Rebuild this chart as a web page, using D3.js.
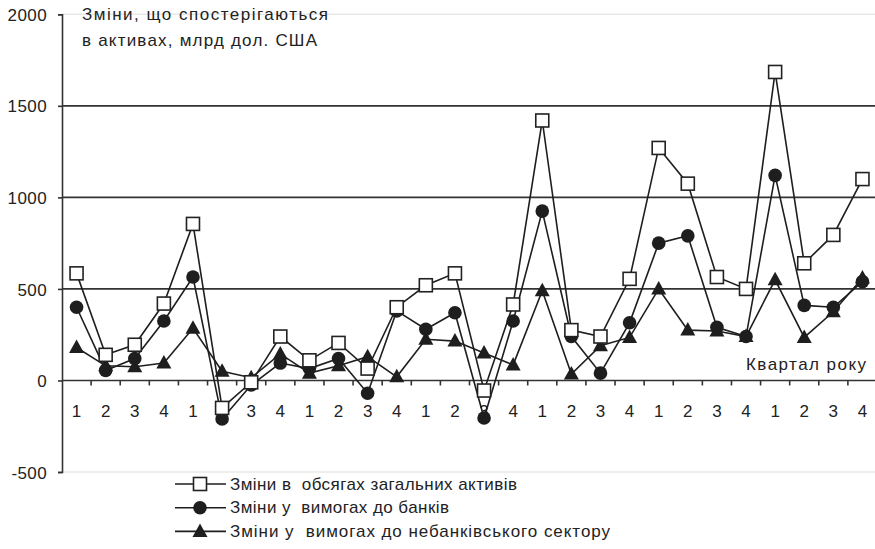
<!DOCTYPE html>
<html><head><meta charset="utf-8">
<script src="https://cdn.jsdelivr.net/npm/d3@7"></script>
<style>body{margin:0;background:#fff}svg{display:block}text{font-family:"Liberation Sans",Arial,sans-serif;fill:#222;white-space:pre}</style>
</head><body><svg id="c" width="875" height="549"></svg>
<script>
const quarters = ["1","2","3","4","1","2","3","4","1","2","3","4","1","2","3","4","1","2","3","4","1","2","3","4","1","2","3","4"];
const totalAssets = [585,140,195,420,855,-150,-10,240,110,205,65,400,520,585,-55,415,1420,275,240,555,1270,1075,565,500,1685,640,795,1100];
const bankClaims = [400,55,120,325,565,-210,-25,95,65,120,-70,380,280,370,-205,325,925,240,40,315,750,790,290,240,1120,410,400,540];
const nonBankClaims = [180,80,75,95,285,50,15,145,40,80,130,20,225,215,150,85,490,35,190,235,500,275,270,240,550,235,375,560];
const yTicks = [-500,0,500,1000,1500,2000];
const gridValues = [500,1000,1500];
const titleLines = ["Зміни, що спостерігаються","в активах, млрд дол. США"];
const xTitle = "Квартал року";
const legendLabels = ["Зміни в  обсягах загальних активів","Зміни у  вимогах до банків","Зміни у  вимогах до небанківського сектору"];

const svg = d3.select("#c");
const idx = d3.range(quarters.length);
const x = d3.scaleBand().domain(idx).range([62, 877]).padding(0);
const y = d3.scaleLinear().domain([-500, 2000]).range([472, 14.3]);
const cx = i => x(i) + x.bandwidth()/2;
const FS = 17;

// faint lines at extremes
svg.selectAll("line.faint").data([-500,2000]).join("line")
  .attr("x1",62).attr("x2",875).attr("y1",d=>y(d)).attr("y2",d=>y(d))
  .attr("stroke","#e8e8e8").attr("stroke-width",1.5);
// gridlines
svg.selectAll("line.grid").data(gridValues).join("line")
  .attr("x1",62).attr("x2",875).attr("y1",d=>y(d)).attr("y2",d=>y(d))
  .attr("stroke","#333").attr("stroke-width",1.6);

// y axis
const yAxis = svg.append("g").attr("transform","translate(62,0)")
  .call(d3.axisLeft(y).tickValues(yTicks).tickSize(4).tickPadding(11).tickFormat(d => String(d)));
yAxis.select(".domain").attr("stroke","#333").attr("stroke-width",1.6);
yAxis.selectAll(".tick line").attr("stroke","#333").attr("stroke-width",1.6);
yAxis.selectAll(".tick text").attr("font-size",FS).attr("fill","#222").attr("dy","0.36em").attr("letter-spacing",0.4);

// x axis at zero
const xAxis = svg.append("g").attr("transform",`translate(0,${y(0)})`);
xAxis.append("line").attr("x1",62).attr("x2",875).attr("y1",0).attr("y2",0).attr("stroke","#333").attr("stroke-width",1.6);
xAxis.selectAll("line.t").data(idx.slice(1)).join("line")
  .attr("x1",d=>x(d)).attr("x2",d=>x(d)).attr("y1",0).attr("y2",5)
  .attr("stroke","#333").attr("stroke-width",1.6);
xAxis.selectAll("text").data(idx).join("text")
  .attr("x",d=>cx(d)).attr("y",37).attr("text-anchor","middle").attr("font-size",FS)
  .text(d=>quarters[d]);

// titles
const titleWidths = [246, 235];
svg.selectAll("text.title").data(titleLines).join("text").attr("class","title")
  .attr("x",82).attr("y",(d,i)=>20+i*26).attr("font-size",FS)
  .attr("textLength",(d,i)=>titleWidths[i]).attr("lengthAdjust","spacing").text(d=>d);
svg.append("text").attr("x",746).attr("y",370).attr("font-size",FS)
  .attr("textLength",120).attr("lengthAdjust","spacing").text(xTitle);

const line = d3.line().x((d,i)=>cx(i)).y(d=>y(d));
const series = [totalAssets, bankClaims, nonBankClaims];
const drawMarker = (g, type) => {
  if (type===0) g.append("rect").attr("x",-6.5).attr("y",-6.5).attr("width",13).attr("height",13)
     .attr("fill","#fff").attr("stroke","#222").attr("stroke-width",1.6);
  else if (type===1) g.append("circle").attr("r",6.8).attr("fill","#1e1e1e");
  else g.append("path").attr("d","M0,-8L7.5,5.5L-7.5,5.5Z").attr("fill","#1e1e1e");
};
[2,1,0].forEach(s=>{
  svg.append("path").datum(series[s]).attr("d",line).attr("fill","none")
    .attr("stroke","#1e1e1e").attr("stroke-width",1.6);
});
[2,1,0].forEach(s=>{
  series[s].forEach((v,i)=>{
    const g = svg.append("g").attr("transform",`translate(${cx(i)},${y(v)})`);
    drawMarker(g,s);
  });
});

// legend
const legendWidths = [287, 219, 380];
const lg = svg.append("g");
legendLabels.forEach((t,i)=>{
  const yy = 484 + i*23.7;
  lg.append("line").attr("x1",175).attr("x2",226).attr("y1",yy).attr("y2",yy).attr("stroke","#1e1e1e").attr("stroke-width",1.6);
  const g = lg.append("g").attr("transform",`translate(200,${yy})`);
  drawMarker(g,i);
  lg.append("text").attr("x",230).attr("y",yy+5.5).attr("font-size",FS)
    .attr("textLength",legendWidths[i]).attr("lengthAdjust","spacing").text(t);
});
</script></body></html>
